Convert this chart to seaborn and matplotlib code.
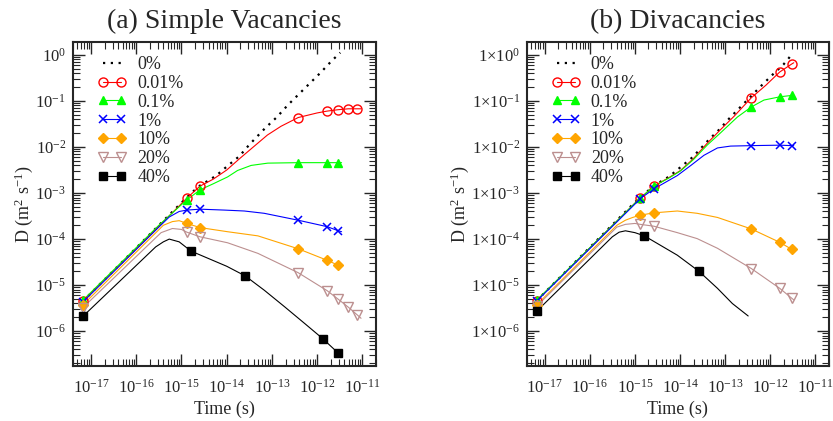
import numpy as np
import matplotlib
matplotlib.use("Agg")
import matplotlib.pyplot as plt
from matplotlib.lines import Line2D
from matplotlib.ticker import LogLocator, FixedLocator, FuncFormatter, NullFormatter
import seaborn as sns

# Valores, em log10 (tempo em s, D em m^2/s)
labels = ["0%", "0.01%", "0.1%", "1%", "10%", "20%", "40%"]
colors = ["black", "#ff0000", "#00ff00", "#0000ff", "#ffa500", "#bc8f8f", "black"]
markers = [None, "o", "^", "x", "D", "v", "s"]
filled = [True, False, True, True, True, False, True]
x_ticks = [-17, -16, -15, -14, -13, -12, -11]
y_ticks = [-6, -5, -4, -3, -2, -1, 0]

# (a) lacunas simples - curvas
a0_x = [-17.18, -15.02, -14.76, -14.58, -14.39, -14.23, -13.98, -13.72, -13.50, -13.15, -12.89, -12.65, -12.30, -11.93, -11.69, -11.49]
a0_y = [-5.35, -3.23, -2.98, -2.83, -2.72, -2.62, -2.41, -2.20, -1.95, -1.59, -1.35, -1.09, -0.75, -0.39, -0.14, 0.05]
a1_x = [-17.18, -15.5, -15.02, -14.88, -14.59, -14.3, -14.0, -13.7, -13.4, -13.1, -12.8, -12.42, -12.0, -11.78, -11.54, -11.31, -11.13, -11.03]
a1_y = [-5.35, -3.72, -3.25, -3.11, -2.85, -2.70, -2.50, -2.24, -1.99, -1.74, -1.55, -1.36, -1.26, -1.22, -1.19, -1.17, -1.17, -1.17]
a2_x = [-17.18, -15.5, -15.02, -14.88, -14.59, -14.3, -13.98, -13.76, -13.46, -13.09, -12.42, -11.78, -11.53, -11.46]
a2_y = [-5.33, -3.70, -3.27, -3.15, -2.93, -2.80, -2.65, -2.51, -2.40, -2.35, -2.34, -2.34, -2.34, -2.34]
a3_x = [-17.18, -15.5, -15.27, -15.05, -14.88, -14.59, -14.05, -13.61, -13.17, -12.42, -11.78, -11.53, -11.46]
a3_y = [-5.37, -3.74, -3.52, -3.40, -3.37, -3.35, -3.37, -3.39, -3.44, -3.59, -3.73, -3.82, -3.84]
a4_x = [-17.18, -15.4, -15.2, -15.05, -14.88, -14.59, -13.98, -13.31, -12.42, -11.78, -11.53, -11.46]
a4_y = [-5.43, -3.70, -3.62, -3.60, -3.66, -3.75, -3.84, -3.93, -4.21, -4.46, -4.57, -4.59]
a5_x = [-17.18, -15.45, -15.2, -15.0, -14.88, -14.59, -13.98, -13.31, -12.42, -11.78, -11.53, -11.31, -11.11, -11.03]
a5_y = [-5.49, -3.86, -3.77, -3.79, -3.85, -3.95, -4.08, -4.31, -4.73, -5.12, -5.31, -5.48, -5.65, -5.72]
a6_x = [-17.18, -15.57, -15.4, -15.27, -15.05, -14.79, -14.0, -13.59, -13.17, -12.72, -12.28, -11.88, -11.53, -11.46]
a6_y = [-5.68, -4.17, -4.06, -4.00, -4.06, -4.26, -4.59, -4.80, -5.11, -5.47, -5.83, -6.16, -6.48, -6.57]

# (a) marcadores
am1_x = [-17.18, -14.88, -14.59, -12.42, -11.78, -11.54, -11.31, -11.13]
am1_y = [-5.35, -3.11, -2.85, -1.36, -1.22, -1.19, -1.17, -1.17]
am2_x = [-17.18, -14.88, -14.59, -12.42, -11.78, -11.53]
am2_y = [-5.33, -3.15, -2.93, -2.34, -2.34, -2.34]
am3_x = [-17.18, -14.88, -14.59, -12.42, -11.78, -11.53]
am3_y = [-5.37, -3.37, -3.35, -3.59, -3.73, -3.82]
am4_x = [-17.18, -14.88, -14.59, -12.42, -11.78, -11.53]
am4_y = [-5.43, -3.66, -3.75, -4.21, -4.46, -4.57]
am5_x = [-17.18, -14.88, -14.59, -12.42, -11.78, -11.53, -11.31, -11.11]
am5_y = [-5.49, -3.85, -3.95, -4.73, -5.12, -5.31, -5.48, -5.65]
am6_x = [-17.18, -14.79, -13.59, -11.88, -11.53]
am6_y = [-5.68, -4.26, -4.80, -6.16, -6.48]

# (b) bilacunas - curvas
b0_x = [-17.18, -15.0, -14.58, -14.24, -13.98, -13.72, -13.37, -13.13, -12.90, -12.66, -12.42, -12.18, -11.93, -11.71, -11.59, -11.50]
b0_y = [-5.34, -3.20, -2.84, -2.64, -2.43, -2.22, -1.85, -1.62, -1.37, -1.13, -0.89, -0.65, -0.41, -0.21, -0.07, 0.05]
b1_x = [-17.18, -15.0, -14.88, -14.58, -14.24, -13.99, -13.7, -13.4, -13.1, -12.8, -12.42, -12.1, -11.79, -11.53, -11.48]
b1_y = [-5.34, -3.22, -3.11, -2.85, -2.66, -2.51, -2.25, -1.92, -1.62, -1.33, -0.93, -0.66, -0.37, -0.20, -0.17]
b2_x = [-17.18, -15.0, -14.88, -14.58, -14.24, -13.99, -13.7, -13.4, -13.10, -12.73, -12.42, -12.14, -11.79, -11.53, -11.48]
b2_y = [-5.33, -3.22, -3.11, -2.85, -2.67, -2.52, -2.27, -1.96, -1.69, -1.35, -1.13, -0.98, -0.91, -0.88, -0.88]
b3_x = [-17.18, -15.0, -14.88, -14.58, -14.24, -14.06, -13.76, -13.47, -13.17, -12.88, -12.42, -11.79, -11.53, -11.48]
b3_y = [-5.35, -3.24, -3.12, -2.91, -2.72, -2.62, -2.40, -2.18, -2.02, -1.98, -1.97, -1.96, -1.97, -1.97]
b4_x = [-17.18, -15.4, -15.21, -15.05, -14.88, -14.58, -14.06, -13.62, -13.17, -12.42, -11.79, -11.53, -11.48]
b4_y = [-5.43, -3.70, -3.59, -3.53, -3.48, -3.43, -3.39, -3.44, -3.53, -3.78, -4.07, -4.22, -4.25]
b5_x = [-17.18, -15.4, -15.21, -15.0, -14.88, -14.58, -14.06, -13.62, -13.17, -12.42, -11.79, -11.53, -11.48]
b5_y = [-5.46, -3.74, -3.68, -3.66, -3.68, -3.72, -3.86, -3.99, -4.20, -4.64, -5.07, -5.28, -5.32]
b6_x = [-17.18, -15.5, -15.35, -15.21, -15.0, -14.79, -14.06, -13.58, -13.17, -12.84, -12.49]
b6_y = [-5.57, -3.95, -3.85, -3.82, -3.86, -3.93, -4.35, -4.70, -5.07, -5.40, -5.67]

# (b) marcadores
bm1_x = [-17.18, -14.88, -14.58, -12.42, -11.79, -11.53]
bm1_y = [-5.34, -3.11, -2.85, -0.93, -0.37, -0.20]
bm2_x = [-17.18, -14.88, -14.58, -12.42, -11.79, -11.53]
bm2_y = [-5.33, -3.11, -2.85, -1.13, -0.91, -0.88]
bm3_x = [-17.18, -14.88, -14.58, -12.42, -11.79, -11.53]
bm3_y = [-5.35, -3.12, -2.91, -1.97, -1.96, -1.97]
bm4_x = [-17.18, -14.88, -14.58, -12.42, -11.79, -11.53]
bm4_y = [-5.43, -3.48, -3.43, -3.78, -4.07, -4.22]
bm5_x = [-17.18, -14.88, -14.58, -12.42, -11.79, -11.53]
bm5_y = [-5.46, -3.68, -3.72, -4.64, -5.07, -5.28]
bm6_x = [-17.18, -14.79, -13.58]
bm6_y = [-5.57, -3.93, -4.70]

a_lines = [(a0_x, a0_y), (a1_x, a1_y), (a2_x, a2_y), (a3_x, a3_y), (a4_x, a4_y), (a5_x, a5_y), (a6_x, a6_y)]
a_marks = [None, (am1_x, am1_y), (am2_x, am2_y), (am3_x, am3_y), (am4_x, am4_y), (am5_x, am5_y), (am6_x, am6_y)]
b_lines = [(b0_x, b0_y), (b1_x, b1_y), (b2_x, b2_y), (b3_x, b3_y), (b4_x, b4_y), (b5_x, b5_y), (b6_x, b6_y)]
b_marks = [None, (bm1_x, bm1_y), (bm2_x, bm2_y), (bm3_x, bm3_y), (bm4_x, bm4_y), (bm5_x, bm5_y), (bm6_x, bm6_y)]

# Estilo
sns.set_style("ticks")
plt.rcParams["font.family"] = ["Liberation Serif", "DejaVu Serif"]
plt.rcParams["mathtext.fontset"] = "stix"
plt.rcParams["axes.linewidth"] = 1.5

DOTS = (0, (1, 2.5))


def marker_kw(i):
    if markers[i] == "x":
        return dict(marker="x", color=colors[i], markeredgewidth=1.1, markersize=6)
    if filled[i]:
        return dict(marker=markers[i], color=colors[i], markerfacecolor=colors[i],
                    markeredgecolor=colors[i], markersize=5.5 if markers[i] != "D" else 5)
    return dict(marker=markers[i], color=colors[i], markerfacecolor="none",
                markeredgecolor=colors[i], markeredgewidth=1.0, markersize=6.5)


def draw_panel(ax, lines, marks, title, fmt):
    for i, (lx, ly) in enumerate(lines):
        sns.lineplot(x=10.0 ** np.array(lx), y=10.0 ** np.array(ly), ax=ax, color=colors[i],
                     linewidth=1.6 if i == 0 else 0.8, linestyle=DOTS if i == 0 else "-",
                     sort=False, estimator=None, zorder=2 + i * 0.1)
        if marks[i] is not None:
            mx, my = marks[i]
            ax.plot(10.0 ** np.array(mx), 10.0 ** np.array(my), linestyle="none",
                    zorder=3 + i * 0.1, **marker_kw(i))
    ax.set_xscale("log")
    ax.set_yscale("log")
    ax.set_xlim(4e-18, 2e-11)
    ax.set_ylim(1.75e-7, 1.9)
    ax.xaxis.set_major_locator(FixedLocator([10.0 ** k for k in x_ticks]))
    ax.yaxis.set_major_locator(FixedLocator([10.0 ** k for k in y_ticks]))
    ax.xaxis.set_minor_locator(LogLocator(base=10, subs=np.arange(2, 10), numticks=100))
    ax.yaxis.set_minor_locator(LogLocator(base=10, subs=np.arange(2, 10), numticks=100))
    ax.xaxis.set_minor_formatter(NullFormatter())
    ax.yaxis.set_minor_formatter(NullFormatter())
    ax.xaxis.set_major_formatter(FuncFormatter(lambda v, p: r"$\mathdefault{10^{%d}}$" % round(np.log10(v))))
    ax.yaxis.set_major_formatter(FuncFormatter(fmt))
    ax.tick_params(which="major", direction="in", length=8.5, width=1.0, top=True, right=True,
                   labelsize=12, pad=5)
    ax.tick_params(axis="x", which="major", pad=9)
    ax.tick_params(which="minor", direction="in", length=5, width=0.8, top=True, right=True)
    ax.set_title(title, fontsize=20, pad=10)
    ax.set_xlabel("Time (s)", fontsize=13, labelpad=3)
    ax.set_ylabel(r"D (m$^{\mathdefault{2}}$ s$^{\mathdefault{-1}}$)", fontsize=13, labelpad=0)

    handles = []
    for i in range(len(labels)):
        if i == 0:
            handles.append(Line2D([], [], color="black", linestyle=DOTS, linewidth=1.6))
        else:
            handles.append(Line2D([], [], linestyle="-", linewidth=0.8, **marker_kw(i)))
    ax.legend(handles, labels, loc="upper left", bbox_to_anchor=(0.045, 0.99), frameon=False,
              fontsize=13, handlelength=1.6, handletextpad=0.6, labelspacing=0.1,
              numpoints=2, borderaxespad=0.2)


fig = plt.figure(figsize=(8.33, 4.21), dpi=100)
ax1 = fig.add_axes([0.0876, 0.1306, 0.3638, 0.7694])
ax2 = fig.add_axes([0.6323, 0.1306, 0.3629, 0.7694])

draw_panel(ax1, a_lines, a_marks, "(a) Simple Vacancies",
           lambda v, p: r"$\mathdefault{10^{%d}}$" % round(np.log10(v)))
draw_panel(ax2, b_lines, b_marks, "(b) Divacancies",
           lambda v, p: r"$\mathdefault{1{\times}10^{%d}}$" % round(np.log10(v)))

plt.savefig("out.png", dpi=100)
plt.close()
